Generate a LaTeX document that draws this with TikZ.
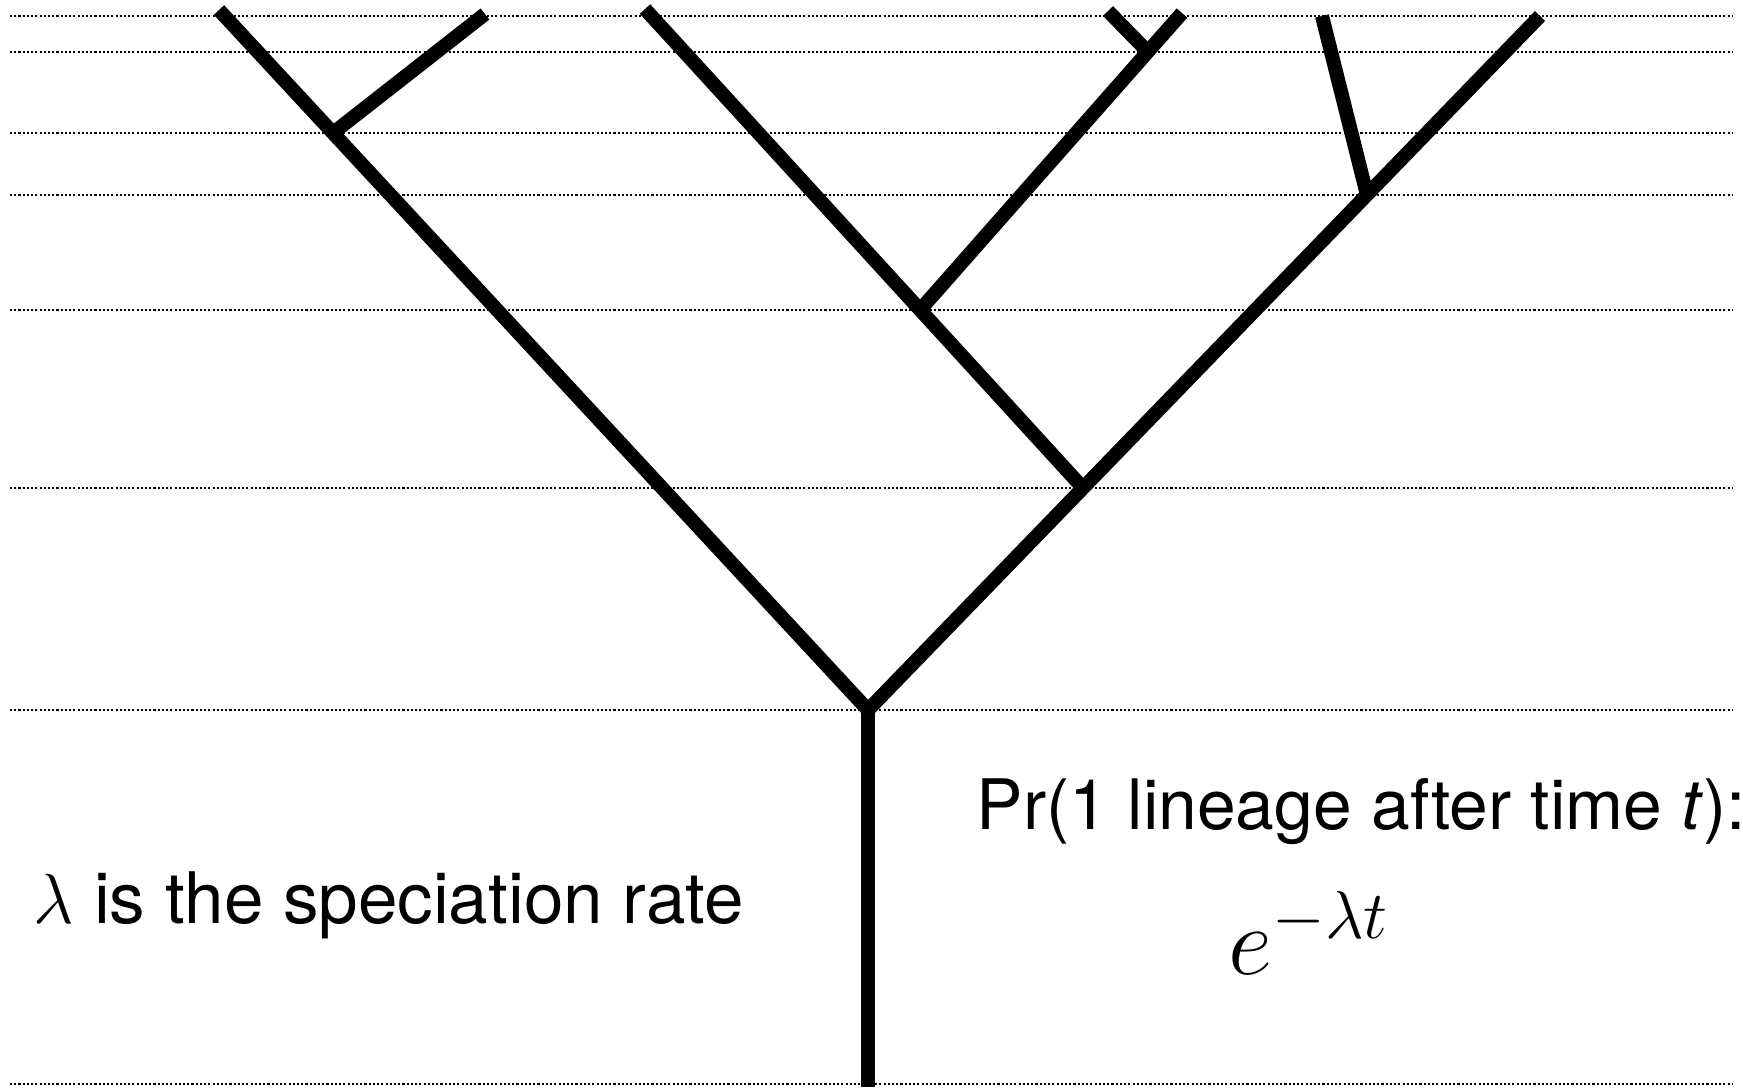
\RequirePackage{fix-cm}
\documentclass[tikz,border=0pt]{standalone}
\usepackage{fontspec}
\setmainfont{TeX Gyre Heros}
\usepackage{tikz}
\usetikzlibrary{positioning}

\tikzset{
  branch/.style={line width=4pt, line join=miter},
  timeline/.style={line width=0.6pt, dash pattern=on 0.6pt off 0.6pt},
  notetext/.style={font=\fontsize{19.8}{24}\selectfont, inner sep=0pt, anchor=base west}
}

\begin{document}
\begin{tikzpicture}[x=0.01cm, y=-0.01cm]
    \useasboundingbox (0,0) rectangle (1743,1087);

    % Time slices at the speciation events
    \foreach \yy in {16,52,133,195,310,488,710,1084}
        \draw[timeline] (10,\yy) -- (1733,\yy);

    % Branching points
    \coordinate (base) at (868,1087);
    \coordinate (root) at (868,710);
    \coordinate (nA) at (333,133);
    \coordinate (nB) at (1083,488);
    \coordinate (nC) at (920,310);
    \coordinate (nD) at (1367,195);
    \coordinate (nE) at (1148,52);

    % Tips at the present
    \coordinate (tipL) at (219,10);
    \coordinate (tipA) at (485,14);
    \coordinate (tipC) at (645,9);
    \coordinate (tipE1) at (1108,11);
    \coordinate (tipE2) at (1182,13);
    \coordinate (tipD) at (1322,16);
    \coordinate (tipR) at (1540,16);

    % The tree
    \draw[branch] (base) -- (root);
    \draw[branch] (tipL) -- (root) -- (tipR);
    \draw[branch] (nA) -- (tipA);
    \draw[branch] (nB) -- (tipC);
    \draw[branch] (nC) -- (tipE2);
    \draw[branch] (nE) -- (tipE1);
    \draw[branch] (nD) -- (tipD);

    % Text
    \node[notetext, font=\fontsize{20.2}{24}\selectfont] (rate) at (33,923) {$\lambda$ is the speciation rate};
    \node[notetext] (prob) at (976,829) {Pr(1 lineage after time \textit{t}):};
    \node[inner sep=0pt, anchor=base west, font=\fontsize{27.5}{32}\selectfont] (expo) at (1228,974) {$e^{-\lambda t}$};
\end{tikzpicture}
\end{document}
